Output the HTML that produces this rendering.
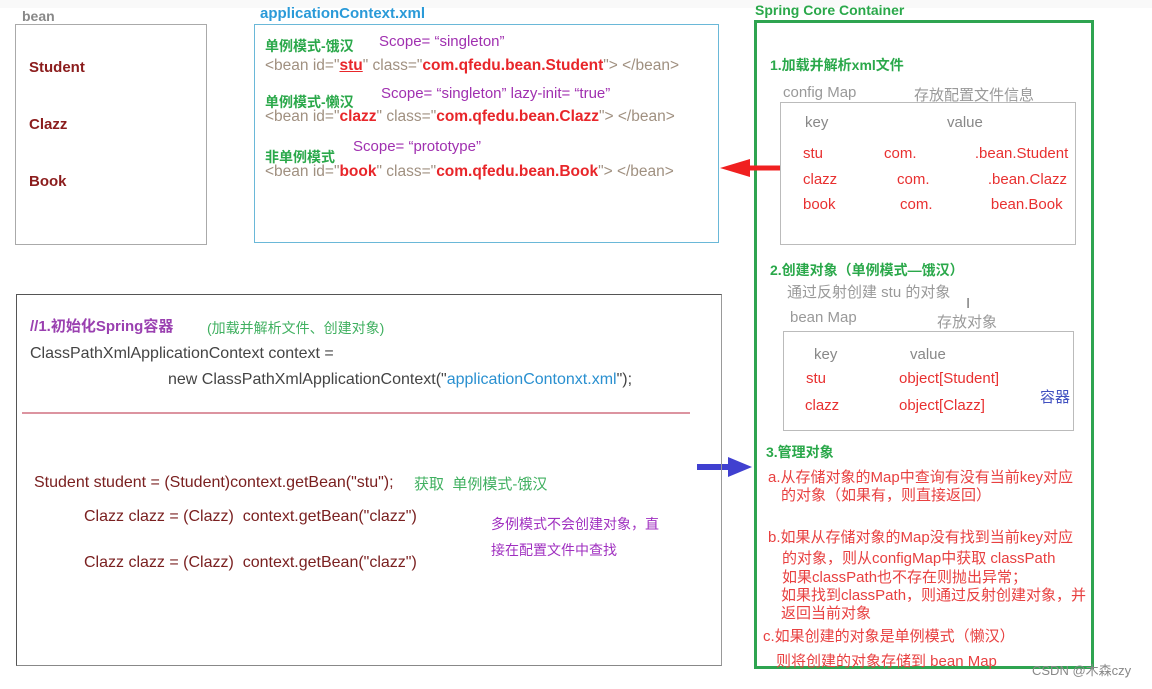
<!DOCTYPE html>
<html><head><meta charset="utf-8"><style>
body{margin:0;width:1152px;height:689px;background:#fff;position:relative;overflow:hidden;font-family:"Liberation Sans","Noto Sans CJK SC",sans-serif;}
.a{position:absolute;white-space:nowrap;line-height:1;}
.box{position:absolute;box-sizing:border-box;}
.g{color:#2aa84a;font-weight:bold;font-size:14px;}
.gr{color:#a09080;font-size:15.5px;}
.r{color:#e8262a;font-weight:bold;}
.p{color:#a030b0;font-size:15px;}
.k{color:#777;font-size:15px;}
.red{color:#e83030;font-size:15px;}
.rt{color:#e84040;font-size:15px;}
.c{color:#444;font-size:16px;}
</style></head><body>
<div class="box" style="left:0;top:0;width:1152px;height:8px;background:#f9f9f9"></div>
<!-- bean -->
<div class="a" style="left:22px;top:9px;font-size:14px;font-weight:bold;color:#888">bean</div>
<div class="box" style="left:15px;top:24px;width:192px;height:221px;border:1px solid #aaa"></div>
<div class="a" style="left:29px;top:60px;font-size:15px;font-weight:bold;color:#8b1c1c">Student</div>
<div class="a" style="left:29px;top:117px;font-size:15px;font-weight:bold;color:#8b1c1c">Clazz</div>
<div class="a" style="left:29px;top:174px;font-size:15px;font-weight:bold;color:#8b1c1c">Book</div>
<!-- xml -->
<div class="a" style="left:260px;top:6px;font-size:15px;font-weight:bold;color:#2a9ad8">applicationContext.xml</div>
<div class="box" style="left:254px;top:24px;width:465px;height:219px;border:1px solid #6ab8d8"></div>
<div class="a g" style="left:265px;top:39px">单例模式-饿汉</div>
<div class="a p" style="left:379px;top:34px">Scope=&nbsp;“singleton”</div>
<div class="a gr" style="left:265px;top:58px">&lt;bean id="<span class="r" style="text-decoration:underline">stu</span>" class="<span class="r">com.qfedu.bean.Student</span>"&gt; &lt;/bean&gt;</div>
<div class="a g" style="left:265px;top:95px">单例模式-懒汉</div>
<div class="a p" style="left:381px;top:86px">Scope=&nbsp;“singleton”&nbsp;lazy-init=&nbsp;“true”</div>
<div class="a gr" style="left:265px;top:109px">&lt;bean id="<span class="r">clazz</span>" class="<span class="r">com.qfedu.bean.Clazz</span>"&gt; &lt;/bean&gt;</div>
<div class="a g" style="left:265px;top:150px">非单例模式</div>
<div class="a p" style="left:353px;top:139px">Scope=&nbsp;“prototype”</div>
<div class="a gr" style="left:265px;top:164px">&lt;bean id="<span class="r">book</span>" class="<span class="r">com.qfedu.bean.Book</span>"&gt; &lt;/bean&gt;</div>
<!-- Spring container -->
<div class="a" style="left:755px;top:3px;font-size:14px;font-weight:bold;color:#2aa84a">Spring Core Container</div>
<div class="box" style="left:754px;top:20px;width:340px;height:649px;border:3px solid #2ea450"></div>
<div class="a g" style="left:770px;top:58px">1.加载并解析xml文件</div>
<div class="a k" style="left:783px;top:85px;color:#999">config Map</div>
<div class="a k" style="left:914px;top:88px;color:#999">存放配置文件信息</div>
<div class="box" style="left:780px;top:102px;width:296px;height:143px;border:1px solid #bbb"></div>
<div class="a k" style="left:805px;top:115px;color:#888">key</div>
<div class="a k" style="left:947px;top:115px;color:#888">value</div>
<div class="a red" style="left:803px;top:146px">stu</div><div class="a red" style="left:884px;top:146px">com.&nbsp;&nbsp;&nbsp;&nbsp;&nbsp;&nbsp;&nbsp;&nbsp;&nbsp;&nbsp;&nbsp;&nbsp;&nbsp;&nbsp;.bean.Student</div>
<div class="a red" style="left:803px;top:172px">clazz</div><div class="a red" style="left:897px;top:172px">com.&nbsp;&nbsp;&nbsp;&nbsp;&nbsp;&nbsp;&nbsp;&nbsp;&nbsp;&nbsp;&nbsp;&nbsp;&nbsp;&nbsp;.bean.Clazz</div>
<div class="a red" style="left:803px;top:197px">book</div><div class="a red" style="left:900px;top:197px">com.&nbsp;&nbsp;&nbsp;&nbsp;&nbsp;&nbsp;&nbsp;&nbsp;&nbsp;&nbsp;&nbsp;&nbsp;&nbsp;&nbsp;bean.Book</div>
<div class="a g" style="left:770px;top:263px">2.创建对象（单例模式—饿汉）</div>
<div class="a k" style="left:787px;top:285px;color:#999">通过反射创建 stu 的对象</div>
<div class="a k" style="left:966px;top:296px;color:#777">I</div>
<div class="a k" style="left:790px;top:310px;color:#999">bean Map</div>
<div class="a k" style="left:937px;top:315px;color:#999">存放对象</div>
<div class="box" style="left:783px;top:331px;width:291px;height:100px;border:1px solid #bbb"></div>
<div class="a k" style="left:814px;top:347px;color:#888">key</div>
<div class="a k" style="left:910px;top:347px;color:#888">value</div>
<div class="a red" style="left:806px;top:371px">stu</div><div class="a red" style="left:899px;top:371px">object[Student]</div>
<div class="a red" style="left:805px;top:398px">clazz</div><div class="a red" style="left:899px;top:398px">object[Clazz]</div>
<div class="a" style="left:1040px;top:390px;font-size:15px;color:#4050c0">容器</div>
<div class="a g" style="left:766px;top:445px">3.管理对象</div>
<div class="a rt" style="left:768px;top:470px">a.从存储对象的Map中查询有没有当前key对应</div>
<div class="a rt" style="left:781px;top:488px">的对象（如果有，则直接返回）</div>
<div class="a rt" style="left:768px;top:530px">b.如果从存储对象的Map没有找到当前key对应</div>
<div class="a rt" style="left:782px;top:551px">的对象，则从configMap中获取 classPath</div>
<div class="a rt" style="left:782px;top:570px">如果classPath也不存在则抛出异常；</div>
<div class="a rt" style="left:781px;top:588px">如果找到classPath，则通过反射创建对象，并</div>
<div class="a rt" style="left:781px;top:606px">返回当前对象</div>
<div class="a rt" style="left:763px;top:629px">c.如果创建的对象是单例模式（懒汉）</div>
<div class="a rt" style="left:776px;top:654px">则将创建的对象存储到 bean Map</div>
<div class="a" style="left:1032px;top:664px;font-size:13px;color:#888">CSDN @木森czy</div>
<!-- arrows -->
<svg class="box" style="left:0;top:0" width="1152" height="689">
<line x1="780" y1="168" x2="745" y2="168" stroke="#f02020" stroke-width="5"/>
<polygon points="720,168 750,159 750,177" fill="#f02020"/>
<line x1="697" y1="467" x2="730" y2="467" stroke="#4040d0" stroke-width="6"/>
<polygon points="752,467 728,457 728,477" fill="#4040d0"/>
<line x1="22" y1="413" x2="690" y2="413" stroke="#d07080" stroke-width="1.5"/>
</svg>
<!-- code box -->
<div class="box" style="left:16px;top:294px;width:706px;height:372px;border:1px solid #555;border-right-color:#999;border-bottom-color:#888"></div>
<div class="a" style="left:30px;top:319px;font-size:15px;font-weight:bold;color:#9a40b0">//1.初始化Spring容器</div>
<div class="a" style="left:207px;top:321px;font-size:14px;color:#40b060">(加载并解析文件、创建对象)</div>
<div class="a c" style="left:30px;top:346px">ClassPathXmlApplicationContext context =</div>
<div class="a c" style="left:168px;top:372px">new ClassPathXmlApplicationContext("<span style="color:#2a90d0">applicationContonxt.xml</span>");</div>
<div class="a c" style="left:34px;top:475px;color:#7a2020">Student student = (Student)context.getBean("stu");</div>
<div class="a" style="left:414px;top:477px;font-size:15px;color:#40b060">获取&nbsp;&nbsp;单例模式-饿汉</div>
<div class="a c" style="left:84px;top:509px;color:#7a2020">Clazz clazz = (Clazz)&nbsp; context.getBean("clazz")</div>
<div class="a c" style="left:84px;top:555px;color:#7a2020">Clazz clazz = (Clazz)&nbsp; context.getBean("clazz")</div>
<div class="a" style="left:491px;top:517px;font-size:14px;color:#a030c0">多例模式不会创建对象，直</div>
<div class="a" style="left:491px;top:543px;font-size:14px;color:#a030c0">接在配置文件中查找</div>
</body></html>
